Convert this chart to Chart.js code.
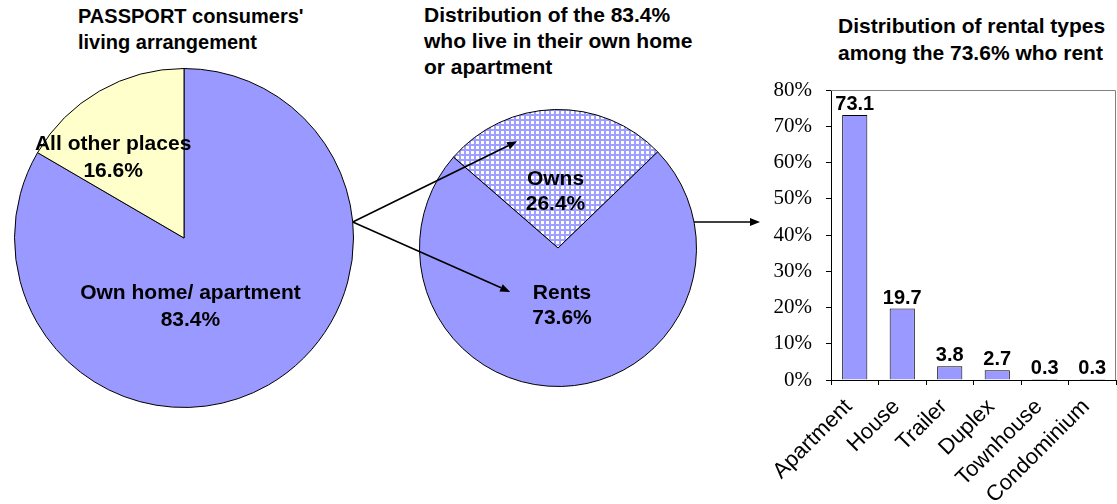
<!DOCTYPE html>
<html><head><meta charset="utf-8">
<script src="https://cdn.jsdelivr.net/npm/chart.js@4"></script>
<style>
html,body{margin:0;padding:0;background:#fff;width:1117px;height:504px;overflow:hidden;}
body{position:relative;font-family:"Liberation Sans",Arial,sans-serif;}
.t{position:absolute;font-weight:bold;color:#000;white-space:nowrap;}
canvas{position:absolute;}
</style></head><body>
<div class="t" id="t1" style="left:78px;top:3px;line-height:26px;font-size:20px;"></div>
<div class="t" id="t2" style="left:424px;top:2px;line-height:26px;font-size:21px;"></div>
<div class="t" id="t3" style="left:838px;top:12px;line-height:27px;font-size:21px;"></div>
<canvas id="pie1" width="340" height="340" style="left:14px;top:68px;"></canvas>
<canvas id="pie2" width="278" height="278" style="left:419px;top:109px;"></canvas>
<canvas id="bar" width="377" height="424" style="left:740px;top:80px;"></canvas>
<canvas id="arrows" width="1117" height="504" style="left:0;top:0;pointer-events:none;"></canvas>
<script>
// ---- data ----
const title1 = ["PASSPORT consumers'", "living arrangement"];
const title2 = ["Distribution of the 83.4%", "who live in their own home", "or apartment"];
const title3 = ["Distribution of rental types", "among the 73.6% who rent"];

const livingLabels = ["Own home/ apartment", "All other places"];
const livingValues = [83.4, 16.6];

const ownLabels = ["Owns", "Rents"];
const ownValues = [26.4, 73.6];

const rentalTypes = ["Apartment", "House", "Trailer", "Duplex", "Townhouse", "Condominium"];
const rentalValues = [73.1, 19.7, 3.8, 2.7, 0.3, 0.3];
const yTicks = [0, 10, 20, 30, 40, 50, 60, 70, 80];

// ---- titles ----
document.getElementById('t1').innerHTML = title1.join('<br>');
document.getElementById('t2').innerHTML = title2.join('<br>');
document.getElementById('t3').innerHTML = title3.join('<br>');

Chart.defaults.animation = false;
Chart.defaults.font.family = '"Liberation Sans", Arial, sans-serif';
Chart.defaults.color = '#000';

const BLUE = '#9999FF';
const YELLOW = '#FFFFCC';

// crosshatch pattern
function makePattern(){
  const c = document.createElement('canvas');
  c.width = 5; c.height = 5;
  const g = c.getContext('2d');
  g.fillStyle = '#9f9fff'; g.fillRect(0,0,5,5);
  g.fillStyle = '#ffffff'; g.fillRect(2,2,3,3);
  return document.getElementById('arrows').getContext('2d').createPattern(c,'repeat');
}

const pieLabelPlugin = {
  id: 'pieLabels',
  afterDatasetsDraw(chart, args, opts){
    const meta = chart.getDatasetMeta(0);
    const ctx = chart.ctx;
    ctx.save();
    ctx.font = 'bold 21px "Liberation Sans", Arial, sans-serif';
    ctx.fillStyle = '#000';
    ctx.textAlign = 'center';
    ctx.textBaseline = 'alphabetic';
    meta.data.forEach((arc, i) => {
      const r = arc.outerRadius;
      const off = opts.offsets[i];
      const x = arc.x + off[0]*r, y = arc.y + off[1]*r;
      const lines = [chart.data.labels[i], chart.data.datasets[0].data[i].toFixed(1) + '%'];
      lines.forEach((l, k) => ctx.fillText(l, x, y + k*opts.lineHeight));
    });
    ctx.restore();
  }
};

const pie1 = new Chart(document.getElementById('pie1'), {
  type: 'pie',
  data: { labels: livingLabels, datasets: [{ data: livingValues, backgroundColor: [BLUE, YELLOW], borderColor: '#000', borderWidth: 1 }] },
  options: {
    responsive: false, rotation: 0,
    layout: { padding: 0 },
    plugins: { legend: { display: false }, tooltip: { enabled: false },
      pieLabels: { offsets: [[0.038, 0.359], [-0.418, -0.518]], lineHeight: 27 } }
  },
  plugins: [pieLabelPlugin]
});

const pie2 = new Chart(document.getElementById('pie2'), {
  type: 'pie',
  data: { labels: ownLabels, datasets: [{ data: ownValues, backgroundColor: [makePattern(), BLUE], borderColor: '#000', borderWidth: 1 }] },
  options: {
    responsive: false, rotation: -49,
    layout: { padding: 0 },
    plugins: { legend: { display: false }, tooltip: { enabled: false },
      pieLabels: { offsets: [[-0.018, -0.453], [0.029, 0.367]], lineHeight: 25 } }
  },
  plugins: [pieLabelPlugin]
});

const barValuePlugin = {
  id: 'barValues',
  afterDatasetsDraw(chart){
    const ctx = chart.ctx;
    const meta = chart.getDatasetMeta(0);
    ctx.save();
    ctx.font = 'bold 20px "Liberation Sans", Arial, sans-serif';
    ctx.fillStyle = '#000';
    ctx.textAlign = 'center';
    ctx.textBaseline = 'alphabetic';
    meta.data.forEach((b, i) => {
      ctx.fillText(chart.data.datasets[0].data[i].toFixed(1), b.x, b.y - 5);
    });
    ctx.restore();
  },
  beforeDatasetsDraw(chart){
    const ctx = chart.ctx, a = chart.chartArea;
    ctx.save();
    ctx.strokeStyle = '#808080'; ctx.lineWidth = 1;
    ctx.beginPath();
    ctx.moveTo(a.left, a.top + 0.5); ctx.lineTo(a.right - 0.5, a.top + 0.5); ctx.lineTo(a.right - 0.5, a.bottom);
    ctx.stroke();
    ctx.restore();
  }
};

const bar = new Chart(document.getElementById('bar'), {
  type: 'bar',
  data: { labels: rentalTypes, datasets: [{ data: rentalValues, backgroundColor: BLUE, borderColor: '#000', borderWidth: 1, borderSkipped: 'start', categoryPercentage: 1, barPercentage: 0.53 }] },
  options: {
    responsive: false,
    layout: { padding: { top: 10, right: 1, left: 0, bottom: 0 } },
    plugins: { legend: { display: false }, tooltip: { enabled: false } },
    scales: {
      y: {
        min: 0, max: 80,
        afterBuildTicks(s){ s.ticks = yTicks.map(v => ({ value: v })); },
        afterFit(s){ s.width = 91; s.paddingTop = 0; s.paddingBottom = 0; },
        ticks: { padding: 14, font: { family: '"Liberation Serif", "Times New Roman", serif', size: 21 }, color: '#000', callback: v => v + '%' },
        grid: { drawOnChartArea: false, drawTicks: true, tickLength: 5, color: '#000' },
        border: { color: '#000', width: 1 }
      },
      x: {
        afterFit(s){ s.height = 124; s.paddingLeft = 0; s.paddingRight = 0; },
        ticks: { minRotation: 45, maxRotation: 45, padding: 9, labelOffset: -6, font: { size: 22 }, color: '#000' },
        grid: { drawOnChartArea: false, drawTicks: true, tickLength: 5, color: '#000', offset: true },
        border: { color: '#000', width: 1 }
      }
    }
  },
  plugins: [barValuePlugin]
});

// ---- connecting arrows (decoration) ----
(function(){
  const ctx = document.getElementById('arrows').getContext('2d');
  const a1 = pie1.getDatasetMeta(0).data[0];
  const a2 = pie2.getDatasetMeta(0).data[0];
  const p1 = { x: 14 + a1.x, y: 68 + a1.y, r: a1.outerRadius };
  const p2 = { x: 419 + a2.x, y: 109 + a2.y, r: a2.outerRadius };
  function arrow(x1, y1, x2, y2){
    const ang = Math.atan2(y2 - y1, x2 - x1);
    const L = 10, W = 4;
    const bx = x2 - L*Math.cos(ang), by = y2 - L*Math.sin(ang);
    ctx.strokeStyle = '#000'; ctx.fillStyle = '#000'; ctx.lineWidth = 1.6;
    ctx.beginPath(); ctx.moveTo(x1, y1); ctx.lineTo(bx, by); ctx.stroke();
    ctx.beginPath();
    ctx.moveTo(x2, y2);
    ctx.lineTo(bx + W*Math.sin(ang), by - W*Math.cos(ang));
    ctx.lineTo(bx - W*Math.sin(ang), by + W*Math.cos(ang));
    ctx.closePath(); ctx.fill();
  }
  const t1 = -5.4 * Math.PI / 180;
  const sx = p1.x + p1.r*Math.cos(t1), sy = p1.y + p1.r*Math.sin(t1);
  arrow(sx, sy, p2.x - 0.295*p2.r, p2.y - 0.77*p2.r);
  arrow(sx, sy, p2.x - 0.345*p2.r, p2.y + 0.317*p2.r);
  const t2 = -10.8 * Math.PI / 180;
  const ex = p2.x + p2.r*Math.cos(t2), ey = p2.y + p2.r*Math.sin(t2);
  arrow(ex, ey, 760, ey);
})();
</script>
</body></html>
